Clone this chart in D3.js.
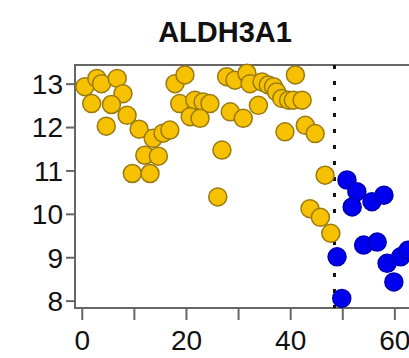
<!DOCTYPE html>
<html>
<head>
<meta charset="utf-8">
<script src="https://cdn.jsdelivr.net/npm/d3@7"></script>
<style>
  body { margin: 0; background: #fff; }
  svg { display: block; }
  text { font-family: "Liberation Sans", Arial, Helvetica, sans-serif; fill: #111; }
</style>
</head>
<body>
<svg id="chart" width="409" height="358"></svg>
<script>

// data
let title = "ALDH3A1";

let yellow_x = [0.6, 2.9, 3.8, 6.8, 7.9, 1.9, 5.7, 8.7, 4.7, 11.0,
                13.7, 15.6, 16.9, 12.1, 14.7, 9.7, 13.1, 17.9, 19.8, 18.8,
                21.7, 23.3, 24.6, 20.8, 22.7, 26.9, 26.1, 27.8, 29.4, 28.5,
                31.7, 32.3, 34.6, 35.8, 36.8, 37.4, 38.4, 39.7, 40.6, 42.3,
                41.0, 33.9, 31.0, 39.0, 42.9, 44.8, 46.7, 43.8, 45.8, 47.8];
let yellow_y = [12.93, 13.12, 13.00, 13.12, 12.77, 12.54, 12.52, 12.27, 12.02, 11.95,
                11.74, 11.86, 11.93, 11.35, 11.33, 10.93, 10.93, 13.00, 13.20, 12.54,
                12.62, 12.58, 12.54, 12.24, 12.20, 11.47, 10.39, 13.16, 13.08, 12.35,
                13.24, 13.00, 13.04, 12.97, 12.93, 12.81, 12.66, 12.62, 12.62, 12.62,
                13.20, 12.50, 12.20, 11.89, 12.04, 11.85, 10.89, 10.12, 9.92, 9.55];

let blue_x = [50.9, 52.8, 51.9, 55.7, 58.0, 49.0, 54.1, 56.7, 58.6, 61.2, 59.9, 49.9, 62.6];
let blue_y = [10.78, 10.51, 10.16, 10.28, 10.43, 9.01, 9.28, 9.35, 8.86, 9.01, 8.43, 8.05, 9.16];

let cutoff = 48.5;

let x_ticks = [0, 10, 20, 30, 40, 50, 60];
let x_labels = [0, 20, 40, 60];
let y_ticks = [8, 9, 10, 11, 12, 13];

// General Variables
let chart = d3.select("#chart");
let plot_left = 75, plot_top = 65, plot_bottom = 308;

// x position scale (plot runs past the right edge of the picture)
let x = d3.scaleLinear()
          .domain([-1.3, 70])
          .range([plot_left, plot_left + 71.3 * 5.21]);

// y position scale
let y = d3.scaleLinear()
          .domain([7.83, 13.43])
          .range([plot_bottom, plot_top]);

let frame_col = "#666";

// frame
chart.append("rect")
     .attr("x", x(-1.3))
     .attr("y", y(13.43))
     .attr("width", x(70) - x(-1.3))
     .attr("height", y(7.83) - y(13.43))
     .attr("fill", "none")
     .attr("stroke", frame_col)
     .attr("stroke-width", 2);

// y axis
let yaxis = chart.append("g")
     .attr("transform", "translate(" + plot_left + ",0)")
     .call(d3.axisLeft(y).tickValues(y_ticks).tickSize(9).tickPadding(3)
             .tickFormat(d3.format("d")));
yaxis.select(".domain").remove();
yaxis.selectAll("line").attr("stroke", frame_col).attr("stroke-width", 2);
yaxis.selectAll("text")
     .style("font-size", "28px")
     .attr("dy", "0.35em")
     .attr("fill", "#111");

// x axis
let xaxis = chart.append("g")
     .attr("transform", "translate(0," + plot_bottom + ")")
     .call(d3.axisBottom(x).tickValues(x_ticks).tickSize(12).tickPadding(10)
             .tickFormat(function(d){ return x_labels.indexOf(d) >= 0 ? d : ""; }));
xaxis.select(".domain").remove();
xaxis.selectAll("line").attr("stroke", frame_col).attr("stroke-width", 2);
xaxis.selectAll("text")
     .style("font-size", "28px")
     .attr("fill", "#111");

// cutoff line
chart.append("line")
     .attr("x1", x(cutoff)).attr("x2", x(cutoff))
     .attr("y1", y(13.43)).attr("y2", y(7.83))
     .attr("stroke", "#111")
     .attr("stroke-width", 3)
     .attr("stroke-dasharray", "4,12");

// points
let yellow = yellow_x.map(function(d, i){ return {x: d, y: yellow_y[i]}; });
let blue = blue_x.map(function(d, i){ return {x: d, y: blue_y[i]}; });

chart.append("g").selectAll("circle")
     .data(yellow).enter()
     .append("circle")
        .attr("cx", function(d){ return x(d.x); })
        .attr("cy", function(d){ return y(d.y); })
        .attr("r", 9)
        .attr("fill", "#f6c100")
        .attr("stroke", "#9a7a10")
        .attr("stroke-width", 1.5);

chart.append("g").selectAll("circle")
     .data(blue).enter()
     .append("circle")
        .attr("cx", function(d){ return x(d.x); })
        .attr("cy", function(d){ return y(d.y); })
        .attr("r", 9)
        .attr("fill", "#0000ee")
        .attr("stroke", "#0000b0")
        .attr("stroke-width", 1.5);

// title
chart.append("text")
     .attr("x", 225)
     .attr("y", 42)
     .attr("text-anchor", "middle")
     .style("font-size", "29px")
     .style("font-weight", "bold")
     .text(title);

</script>
</body>
</html>
